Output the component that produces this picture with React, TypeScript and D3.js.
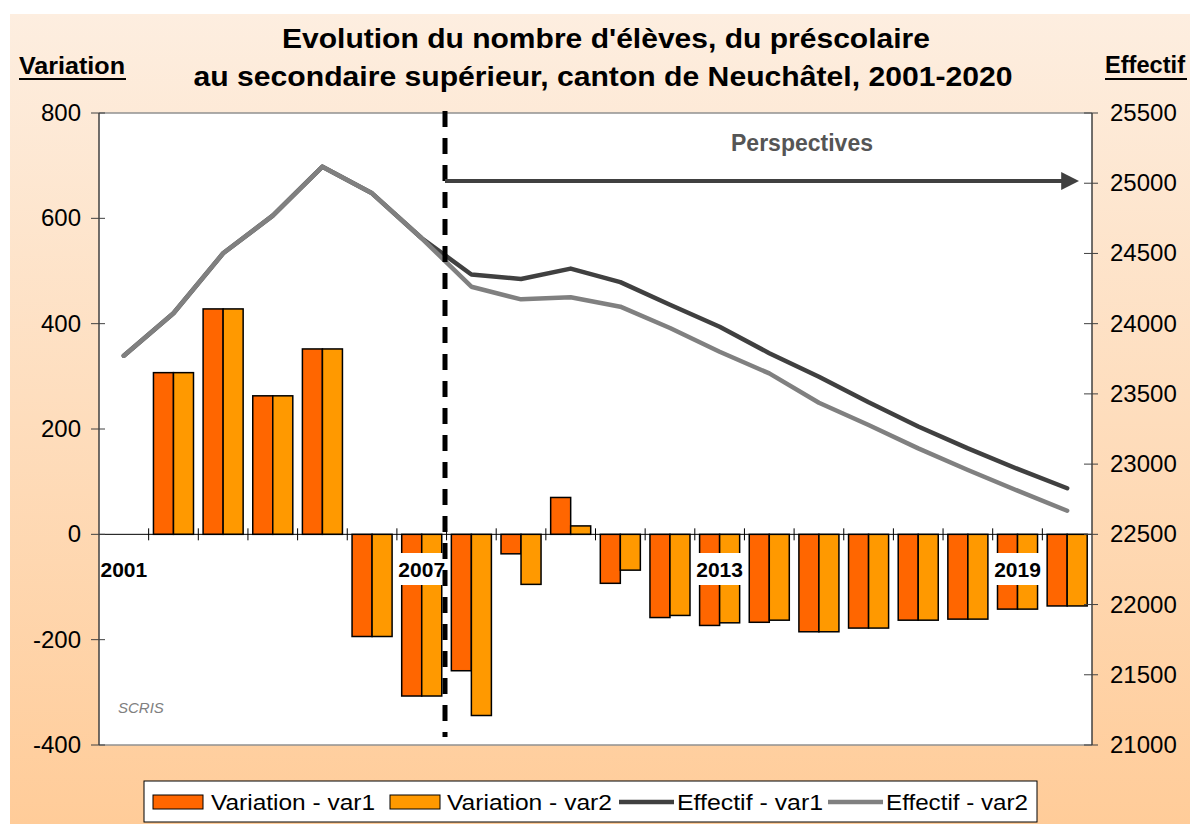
import React from "react";
import * as d3 from "d3";

const years = d3.range(2001, 2021).map(String);
const variationVar1: (number | null)[] = [null, 307, 428, 263, 352, -194, -307, -259, -37, 70, -93, -158, -173, -167, -185, -178, -163, -161, -142, -136];
const variationVar2: (number | null)[] = [null, 307, 428, 263, 352, -194, -307, -344, -95, 16, -68, -154, -168, -163, -185, -178, -163, -161, -142, -136];
const effectifVar1 = [23772, 24074, 24501, 24769, 25118, 24928, 24608, 24350, 24318, 24392, 24296, 24135, 23978, 23790, 23622, 23440, 23268, 23112, 22966, 22828];
const effectifVar2 = [23772, 24074, 24501, 24769, 25118, 24928, 24608, 24263, 24173, 24188, 24121, 23969, 23800, 23646, 23437, 23278, 23112, 22958, 22811, 22668];
const leftTicks = [800, 600, 400, 200, 0, -200, -400];
const rightTicks = [25500, 25000, 24500, 24000, 23500, 23000, 22500, 22000, 21500, 21000];
const yearLabels = ["2001", "2007", "2013", "2019"];
const titleLines = ["Evolution du nombre d'élèves, du préscolaire", "au secondaire supérieur, canton de Neuchâtel, 2001-2020"];
const legendItems = [
  { label: "Variation - var1", type: "bar", color: "#FF6600" },
  { label: "Variation - var2", type: "bar", color: "#FF9900" },
  { label: "Effectif - var1", type: "line", color: "#404040" },
  { label: "Effectif - var2", type: "line", color: "#808080" },
];

const FONT = "Arial, 'Liberation Sans', sans-serif";

export default function App() {
  const L = 99, R = 1092, T = 113, B = 745;
  const x = d3.scaleBand<string>().domain(years).range([L, R]).padding(0);
  const inner = d3.scaleBand<string>().domain(["v1", "v2"]).range([0, x.bandwidth()]).paddingInner(0).paddingOuter(0.24);
  const yL = d3.scaleLinear().domain([-400, 800]).range([B, T]);
  const yR = d3.scaleLinear().domain([21000, 25500]).range([B, T]);
  const cx = (i: number) => (x(years[i]) as number) + x.bandwidth() / 2;

  const line1 = d3.line<number>().x((_, i) => cx(i)).y((d) => yR(d));
  const y0 = yL(0);

  const bars: JSX.Element[] = [];
  years.forEach((yr, i) => {
    [["v1", variationVar1[i], "#FF6600"], ["v2", variationVar2[i], "#FF9900"]].forEach(([k, v, c]) => {
      if (v === null) return;
      const bx = (x(yr) as number) + (inner(k as string) as number);
      const yv = yL(v as number);
      bars.push(
        <rect key={yr + k} x={bx} y={Math.min(yv, y0)} width={inner.bandwidth()} height={Math.abs(yv - y0)}
          fill={c as string} stroke="#000" strokeWidth={1.5} />
      );
    });
  });

  const dashX = 445;
  const titleLens = [648, 819];
  const titleCx = [606, 603];
  const titleY = [48, 86];
  const legendSwatch = [153, 390, 619, 828];
  const legendText = [211, 447, 677, 886];
  const legendLens = [164, 165, 146, 142];

  return (
    <svg width={1190} height={824} style={{ position: "absolute", left: 0, top: 0 }} fontFamily={FONT}>
      <defs>
        <linearGradient id="bg" x1="0" y1="0" x2="0" y2="1">
          <stop offset="0" stopColor="#FDEEE0" />
          <stop offset="1" stopColor="#FFCC99" />
        </linearGradient>
        <marker id="arr" viewBox="0 0 10 10" refX="6" refY="5" markerWidth="4.5" markerHeight="4.5" orient="auto">
          <path d="M0,0 L10,5 L0,10 z" fill="#404040" />
        </marker>
      </defs>
      <rect x={10} y={14} width={1180} height={810} fill="url(#bg)" />

      {/* title */}
      {titleLines.map((t, i) => (
        <text key={i} x={titleCx[i]} y={titleY[i]} textAnchor="middle" fontWeight="bold" fontSize={28} fill="#000"
          textLength={titleLens[i]} lengthAdjust="spacingAndGlyphs">{t}</text>
      ))}
      <text x={19} y={74} fontWeight="bold" fontSize={24} fill="#000" textLength={106} lengthAdjust="spacingAndGlyphs">Variation</text>
      <line x1={19} x2={126} y1={79} y2={79} stroke="#000" strokeWidth={2} />
      <text x={1105} y={73} fontWeight="bold" fontSize={24} fill="#000" textLength={80} lengthAdjust="spacingAndGlyphs">Effectif</text>
      <line x1={1105} x2={1187} y1={79} y2={79} stroke="#000" strokeWidth={2} />

      {/* plot area */}
      <rect x={L} y={T} width={R - L} height={B - T} fill="#fff" />
      <line x1={L} x2={R} y1={T} y2={T} stroke="#909090" strokeWidth={1.5} />
      <line x1={L} x2={R} y1={B} y2={B} stroke="#909090" strokeWidth={1.5} />

      {/* bars */}
      {bars}

      {/* x axis at zero */}
      <line x1={L} x2={R} y1={y0} y2={y0} stroke="#000" strokeWidth={1} />
      {years.map((yr, i) => (i > 0 ? (
        <line key={yr} x1={x(yr) as number} x2={x(yr) as number} y1={y0 - 6} y2={y0 + 6} stroke="#000" strokeWidth={1} />
      ) : null))}

      {/* lines */}
      <path d={line1(effectifVar1) || ""} fill="none" stroke="#404040" strokeWidth={4.5} strokeLinejoin="round" strokeLinecap="round" />
      <path d={line1(effectifVar2) || ""} fill="none" stroke="#808080" strokeWidth={4.5} strokeLinejoin="round" strokeLinecap="round" />

      {/* year labels */}
      {yearLabels.map((yl) => {
        const px = (x(yl) as number) + x.bandwidth() / 2;
        return (
          <g key={yl}>
            <rect x={px - 25} y={553} width={50} height={32} fill="#fff" />
            <text x={px} y={577} textAnchor="middle" fontWeight="bold" fontSize={21} fill="#000">{yl}</text>
          </g>
        );
      })}

      {/* left axis */}
      <line x1={L} x2={L} y1={T} y2={B} stroke="#404040" strokeWidth={1.5} />
      {leftTicks.map((t) => (
        <g key={t}>
          <line x1={L - 8} x2={L + 6} y1={yL(t)} y2={yL(t)} stroke="#404040" strokeWidth={1} />
          <text x={L - 18} y={yL(t) + 8} textAnchor="end" fontSize={24} fill="#000">{t}</text>
        </g>
      ))}
      {/* right axis */}
      <line x1={R} x2={R} y1={T} y2={B} stroke="#404040" strokeWidth={1.5} />
      {rightTicks.map((t) => (
        <g key={t}>
          <line x1={R - 8} x2={R + 6} y1={yR(t)} y2={yR(t)} stroke="#404040" strokeWidth={1} />
          <text x={R + 18} y={yR(t) + 8} textAnchor="start" fontSize={24} fill="#000">{t}</text>
        </g>
      ))}

      {/* perspectives */}
      <line x1={dashX} x2={dashX} y1={T - 2} y2={B - 8} stroke="#000" strokeWidth={5} strokeDasharray="16 11" />
      <line x1={dashX} x2={1072} y1={181} y2={181} stroke="#404040" strokeWidth={4} markerEnd="url(#arr)" />
      <text x={802} y={151} textAnchor="middle" fontWeight="bold" fontSize={23} fill="#555">Perspectives</text>

      <text x={118} y={713} fontStyle="italic" fontSize={15} fill="#808080">SCRIS</text>

      {/* legend */}
      <rect x={144} y={781} width={893} height={41} fill="#fff" stroke="#000" strokeWidth={1} />
      {legendItems.map((it, i) => {
        const sx = legendSwatch[i];
        return (
          <g key={it.label}>
            {it.type === "bar" ? (
              <rect x={sx} y={795} width={50} height={14} fill={it.color} stroke="#000" strokeWidth={1} />
            ) : (
              <line x1={sx} x2={sx + 55} y1={802} y2={802} stroke={it.color} strokeWidth={4.5} />
            )}
            <text x={legendText[i]} y={810} fontSize={22} fill="#000" textLength={legendLens[i]} lengthAdjust="spacingAndGlyphs">{it.label}</text>
          </g>
        );
      })}
    </svg>
  );
}
